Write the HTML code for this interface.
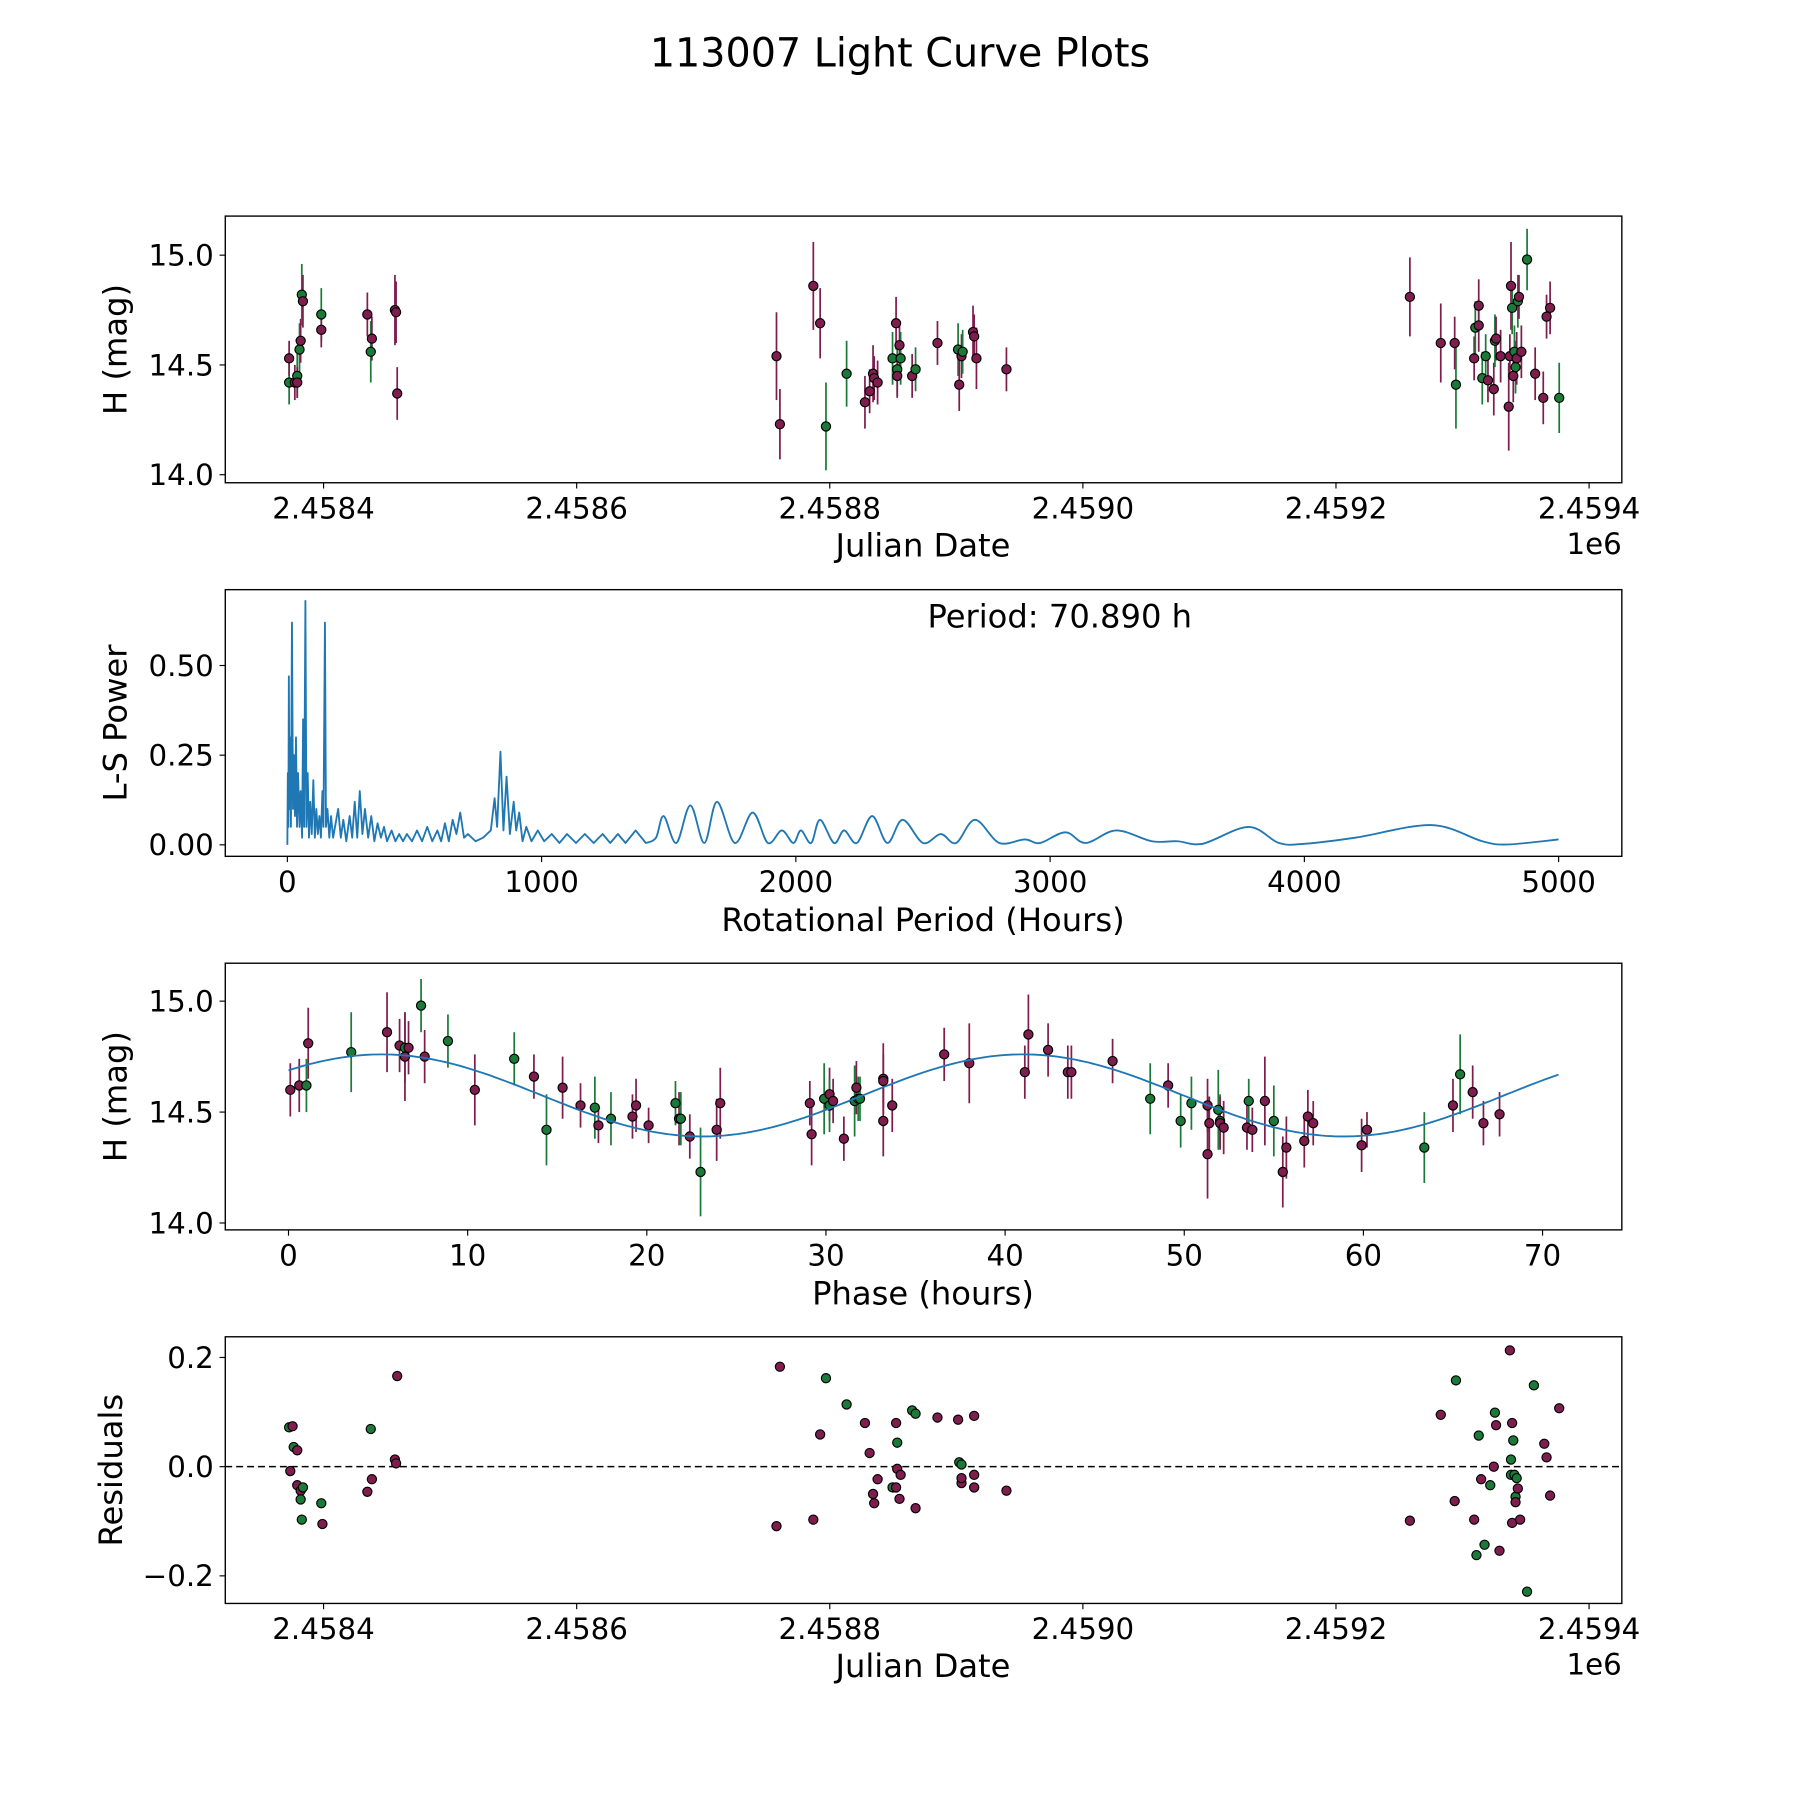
<!DOCTYPE html>
<html><head><meta charset="utf-8"><style>
html,body{margin:0;padding:0;background:#fff;}
svg{display:block;font-family:"DejaVu Sans","Liberation Sans",sans-serif;}
</style></head><body>
<svg id="fig" width="1800" height="1800" viewBox="0 0 1566 1566" xmlns="http://www.w3.org/2000/svg">
<rect width="1566" height="1566" fill="#fff"/>
<text x="783" y="58" font-size="34.5" text-anchor="middle">113007 Light Curve Plots</text>
<g id="p1"></g>
<g id="p2"></g>
<g id="p3"></g>
<g id="p4"></g>
</svg>
<script>
const JD_BASE = 2458372.8;
// Light curve: days since JD_BASE, magnitude, error, band (g = green, m = maroon)
const lcDays = [0,0,4.5,6.4,6.4,8.2,9.1,10,10.9,25.4,25.4,61.8,64.5,65.4,83.6,84.5,85.4,
385.1,387.8,414.2,419.6,424.2,440.5,455,458.7,461.4,462.3,465,476.8,479.6,480.5,480.5,482.3,483.2,492.3,495,512.3,528.6,529.5,531.3,532.2,540.4,541.3,543.1,566.8,
885.6,910,921,922,936.4,937.3,940,940,942.8,945.5,947.3,951.9,952.8,953.7,957.3,963.7,964.6,965.5,966.4,967.3,968.2,969.1,970,970.9,971.8,973.7,978.2,984.6,991,993.6,996.4,1003.6];
const lcMag = [14.42,14.53,14.42,14.45,14.42,14.57,14.61,14.82,14.79,14.73,14.66,14.73,14.56,14.62,14.75,14.74,14.37,
14.54,14.23,14.86,14.69,14.22,14.46,14.33,14.38,14.46,14.44,14.42,14.53,14.69,14.48,14.45,14.59,14.53,14.45,14.48,14.60,14.57,14.41,14.54,14.56,14.65,14.63,14.53,14.48,
14.81,14.60,14.60,14.41,14.53,14.67,14.68,14.77,14.44,14.54,14.43,14.39,14.61,14.62,14.54,14.31,14.54,14.86,14.76,14.45,14.56,14.49,14.53,14.79,14.81,14.56,14.98,14.46,14.35,14.72,14.76,14.35];
const lcErr = [0.1,0.08,0.08,0.1,0.07,0.12,0.1,0.14,0.12,0.12,0.08,0.1,0.14,0.1,0.16,0.14,0.12,
0.2,0.16,0.2,0.16,0.2,0.15,0.12,0.1,0.13,0.1,0.1,0.12,0.12,0.12,0.1,0.1,0.12,0.1,0.1,0.1,0.12,0.12,0.1,0.1,0.12,0.1,0.14,0.1,
0.18,0.18,0.12,0.2,0.1,0.12,0.12,0.12,0.12,0.1,0.1,0.12,0.12,0.1,0.12,0.2,0.1,0.2,0.12,0.12,0.12,0.12,0.12,0.12,0.1,0.12,0.14,0.12,0.12,0.1,0.12,0.16];
const lcBand = "gmmgmgmgmgmmgmmmm" + "mmmmggmmmmmgmgmmgmgmgmmgmmmm" + "mmmgmgmmggmmgmmmmmgmggmgmmgmmmmg";
// Phase-folded data
const phHours = [0.1,0.6,1.0,1.1,3.5,5.5,6.2,6.5,6.5,6.7,7.4,7.6,8.9,10.4,12.6,13.7,14.4,15.3,16.3,17.1,17.3,18.0,19.2,19.4,20.1,21.6,21.8,21.9,22.4,23.0,23.9,24.1,29.1,29.2,29.9,30.2,30.2,30.4,31.0,31.6,31.7,31.8,31.9,33.2,33.2,33.2,33.7,36.6,38.0,41.1,41.3,42.4,43.5,43.7,46.0,48.1,49.1,49.8,50.4,51.3,51.4,51.3,51.9,52.0,52.0,52.2,53.5,53.6,53.8,54.5,55.0,55.5,55.7,56.7,56.9,57.2,59.9,60.2,63.4,65.0,65.4,66.1,66.7,67.6];
const phMag = [14.60,14.62,14.62,14.81,14.77,14.86,14.80,14.79,14.75,14.79,14.98,14.75,14.82,14.60,14.74,14.66,14.42,14.61,14.53,14.52,14.44,14.47,14.48,14.53,14.44,14.54,14.47,14.47,14.39,14.23,14.42,14.54,14.54,14.40,14.56,14.58,14.53,14.55,14.38,14.55,14.61,14.56,14.56,14.65,14.64,14.46,14.53,14.76,14.72,14.68,14.85,14.78,14.68,14.68,14.73,14.56,14.62,14.46,14.54,14.53,14.45,14.31,14.51,14.46,14.45,14.43,14.43,14.55,14.42,14.55,14.46,14.23,14.34,14.37,14.48,14.45,14.35,14.42,14.34,14.53,14.67,14.59,14.45,14.49];
const phBand = "mmgmgmmgmm"+"gmgmgmgmmg"+"mgmmmgmgmg"+"mmmmgmgmmg"+"mggmmmmmmm"+"mmmmmgmggm"+"mmggmmmgmm"+"gmmmmmmmgm"+"gmmm";
const phErr = [0.12,0.12,0.12,0.16,0.18,0.18,0.12,0.16,0.2,0.12,0.12,0.12,0.12,0.16,0.12,0.1,0.16,0.14,0.1,0.14,0.08,0.12,0.1,0.12,0.08,0.1,0.12,0.12,0.1,0.2,0.14,0.16,0.1,0.14,0.16,0.12,0.12,0.1,0.1,0.16,0.12,0.1,0.1,0.16,0.12,0.16,0.12,0.12,0.18,0.12,0.18,0.12,0.12,0.12,0.1,0.16,0.1,0.12,0.12,0.12,0.12,0.2,0.18,0.12,0.12,0.12,0.1,0.1,0.1,0.2,0.16,0.16,0.14,0.12,0.12,0.1,0.12,0.08,0.16,0.12,0.18,0.12,0.1,0.1];
// Fit model parameters
const fitMean = 14.575, fitAmp = 0.185, fitPeakHour = 5.2, fitCycleHours = 35.8, fitEnd = 70.89;
// Periodogram (period hours, power) - spiky region
const lsPeriod = [0,2,4,6,8,10,14,18,22,26,30,34,38,42,48,52,58,62,66,70.9,75,80,85,90,96,102,108,114,120,126,132,138,142,148,152,158,165,172,180,190,200,210,220,232,245,255,265,275,285,295,305,318,330,342,355,368,380,392,410,425,440,455,470,490,510,530,550,570,590,605,620,635,650,665,680,695,710,740,770,800,815,825,838,850,862,875,890,900,912,925,940,960,985,1010,1040,1070,1100,1135,1170,1205,1240,1270,1300,1330,1370,1410];
const lsPower = [0,0.20,0.05,0.47,0.1,0.30,0.05,0.62,0.1,0.25,0.08,0.3,0.05,0.2,0.05,0.15,0.02,0.35,0.05,0.68,0.05,0.2,0.02,0.12,0.03,0.18,0.02,0.1,0.03,0.08,0.02,0.15,0.05,0.62,0.05,0.1,0.02,0.08,0.02,0.06,0.1,0.02,0.07,0.01,0.08,0.02,0.12,0.02,0.15,0.03,0.1,0.02,0.08,0.01,0.06,0.02,0.05,0.01,0.04,0.01,0.03,0.01,0.03,0.01,0.04,0.01,0.05,0.01,0.04,0.01,0.06,0.01,0.07,0.03,0.09,0.02,0.03,0.01,0.02,0.04,0.13,0.05,0.26,0.04,0.19,0.03,0.12,0.04,0.09,0.01,0.05,0.01,0.04,0.01,0.03,0.005,0.03,0.005,0.03,0.005,0.03,0.005,0.03,0.005,0.04,0.005];
// Periodogram - smooth long-period region
const lsPeriodSmooth = [1410,1450,1480,1530,1585,1640,1690,1760,1830,1890,1945,1990,2020,2060,2095,2150,2190,2240,2300,2360,2420,2500,2570,2630,2705,2800,2900,2960,3060,3140,3260,3400,3500,3600,3780,3900,4000,4200,4500,4700,4800,5000];
const lsPowerSmooth = [0.005,0.02,0.08,0.005,0.11,0.005,0.12,0.005,0.09,0.005,0.04,0.005,0.04,0.005,0.07,0.005,0.04,0.005,0.08,0.005,0.07,0.005,0.03,0.005,0.07,0.005,0.015,0.005,0.035,0.005,0.04,0.01,0.01,0.003,0.05,0.005,0.003,0.02,0.055,0.01,0.001,0.015];
// Residuals
const resDays = [0,2.7,0.9,3.6,6.4,6.4,9.1,9.1,10.9,10,25.4,26.3,61.8,64.5,65.4,83.6,84.5,85.4,
385.1,387.8,414.2,419.6,424.2,440.5,455,458.7,461.4,462.3,465,476.8,479.6,480.5,480.5,479.6,482.3,483.2,492.3,495,495,512.3,528.6,529.5,531.3,531.3,531.3,541.3,541.3,541.3,566.8,
885.6,910,921,922,936.4,938.2,940,941.9,944.6,949.1,951.9,952.8,953.7,956.4,964.6,965.5,966.4,966.4,967.3,965.5,968.2,970,969.1,969.1,970.9,972.7,978.2,983.6,991.8,993.6,996.4,1003.6];
const resVal = [0.072,0.074,-0.008,0.036,0.03,-0.034,-0.044,-0.06,-0.038,-0.097,-0.067,-0.105,-0.046,0.069,-0.023,0.013,0.006,0.166,
-0.109,0.183,-0.097,0.059,0.162,0.114,0.08,0.025,-0.05,-0.067,-0.023,-0.038,0.08,0.044,-0.004,-0.038,-0.059,-0.015,0.103,0.097,-0.076,0.09,0.086,0.008,0.004,-0.03,-0.021,0.093,-0.015,-0.038,-0.044,
-0.099,0.095,-0.063,0.158,-0.097,-0.162,0.057,-0.023,-0.143,-0.034,0,0.099,0.076,-0.154,0.213,0.013,-0.103,0.08,0.048,-0.015,-0.015,-0.021,-0.055,-0.065,-0.04,-0.097,-0.229,0.149,0.042,0.017,-0.053,0.107];
const resBand = "gmmgmmmggggmmgmmmm" + "mmmmggmmmmmgmgmmmmggmmmggmmmmmm" + "mmmgmggmggmgmmmgmmgggggmmmggmmmmg";
const jdTicks = [2458400,2458600,2458800,2459000,2459200,2459400];
const jdTickLabels = ["2.4584","2.4586","2.4588","2.4590","2.4592","2.4594"];
const magTicks = [14.0,14.5,15.0];
const lsXTicks = [0,1000,2000,3000,4000,5000];
const lsYTicks = [0,0.25,0.5];
const phXTicks = [0,10,20,30,40,50,60,70];
const resTicks = [-0.2,0,0.2];

const NS = "http://www.w3.org/2000/svg";
const COL = {m:"#7f1d4f", g:"#1b7a38"};
const TF = 25.5, LF = 28;
function mk(parent, tag, attrs){ const e=document.createElementNS(NS,tag); for(const k in attrs) e.setAttribute(k,attrs[k]); parent.appendChild(e); return e; }
const L=196, R=1411;
function frame(g, top, bot){
  const r = mk(g,"rect",{x:L,y:top,width:R-L,height:bot-top,fill:"none",stroke:"#000","stroke-width":1.2});
  
  
}
function xTicks(g, vals, labels, sx, bot){
  vals.forEach((v,i)=>{ const x=sx(v);
    const t=mk(g,"line",{x1:x,x2:x,y1:bot,y2:bot+5,stroke:"#000","stroke-width":1});
    
    
    const tx=mk(g,"text",{x:x,y:bot+31,"font-size":TF,"text-anchor":"middle"}); tx.textContent=labels[i];
    
    
  });
}
function yTicks(g, vals, labels, sy){
  vals.forEach((v,i)=>{ const y=sy(v);
    const t=mk(g,"line",{x1:L-5,x2:L,y1:y,y2:y,stroke:"#000","stroke-width":1});
    
    
    const tx=mk(g,"text",{x:L-10,y:y+9,"font-size":TF,"text-anchor":"end"}); tx.textContent=labels[i];
    
    
  });
}
function label(g, txt, x, y, rot, name){
  const t=mk(g,"text",{x:x,y:y,"font-size":LF,"text-anchor":"middle"}); t.textContent=txt;
  if(rot) t.setAttribute("transform",`rotate(-90 ${x} ${y})`);
  
  
}
function dot(g,x,y,b,name){
  const c=mk(g,"circle",{cx:x,cy:y,r:4,fill:COL[b]||COL.m,stroke:"#000","stroke-width":1});
  
  
}
function errbar(g,x,y1,y2,b){
  const l=mk(g,"line",{x1:x,x2:x,y1:y1,y2:y2,stroke:COL[b]||COL.m,"stroke-width":1.5});
  
  
}
const sxJD = jd => 281.5 + (jd-2458400)*1.101;

// Panel 1
(function(){
  const g=document.getElementById("p1"), top=188, bot=420;
  const sy = m => 413 - (m-14.0)*191;
  lcDays.forEach((d,i)=>{ const x=sxJD(JD_BASE+d); errbar(g,x,sy(lcMag[i]-lcErr[i]),sy(lcMag[i]+lcErr[i]),lcBand[i]); });
  lcDays.forEach((d,i)=>{ dot(g,sxJD(JD_BASE+d),sy(lcMag[i]),lcBand[i],'light-curve-point'); });
  frame(g,top,bot);
  xTicks(g,jdTicks,jdTickLabels,sxJD,bot);
  yTicks(g,magTicks,magTicks.map(v=>v.toFixed(1)),sy);
  label(g,"Julian Date",803,484,false,'x-axis-title');
  const e=mk(g,"text",{x:1411,y:482,"font-size":TF,"text-anchor":"end"}); e.textContent="1e6";
   
  label(g,"H (mag)",110,304,true,'y-axis-title');
})();

// Panel 2
(function(){
  const g=document.getElementById("p2"), top=513, bot=745;
  const sx = p => 250 + p*0.2212, sy = v => 735 - v*312;
  let d = "M" + lsPeriod.map((p,i)=>sx(p).toFixed(1)+","+sy(lsPower[i]).toFixed(1)).join(" L");
  // smooth section via Catmull-Rom
  const P = lsPeriodSmooth.map((p,i)=>[sx(p), sy(lsPowerSmooth[i])]);
  for(let i=0;i<P.length-1;i++){
    const p0=P[Math.max(0,i-1)], p1=P[i], p2=P[i+1], p3=P[Math.min(P.length-1,i+2)];
    const c1=[p1[0]+(p2[0]-p0[0])/6, p1[1]+(p2[1]-p0[1])/6];
    const c2=[p2[0]-(p3[0]-p1[0])/6, p2[1]-(p3[1]-p1[1])/6];
    c1[1]=Math.min(c1[1],sy(-0.003)); c2[1]=Math.min(c2[1],sy(-0.003));
    d += ` C${c1[0].toFixed(1)},${c1[1].toFixed(1)} ${c2[0].toFixed(1)},${c2[1].toFixed(1)} ${p2[0].toFixed(1)},${p2[1].toFixed(1)}`;
  }
  const pl=mk(g,"path",{d:d,fill:"none",stroke:"#1f77b4","stroke-width":1.6,"stroke-linejoin":"round"});
   
  frame(g,top,bot);
  xTicks(g,lsXTicks,lsXTicks.map(String),sx,bot);
  yTicks(g,lsYTicks,lsYTicks.map(v=>v.toFixed(2)),sy);
  label(g,"Rotational Period (Hours)",803,810,false,'x-axis-title');
  label(g,"L-S Power",110,629,true,'y-axis-title');
  const t=mk(g,"text",{x:922,y:546,"font-size":LF,"text-anchor":"middle"}); t.textContent="Period: 70.890 h";
   
})();

// Panel 3
(function(){
  const g=document.getElementById("p3"), top=838, bot=1070;
  const sx = p => 251 + p*15.586, sy = m => 1064 - (m-14.0)*193;
  phHours.forEach((p,i)=>errbar(g,sx(p),sy(phMag[i]-phErr[i]),sy(phMag[i]+phErr[i]),phBand[i]));
  phHours.forEach((p,i)=>dot(g,sx(p),sy(phMag[i]),phBand[i],'phase-point'));
  const pts=[]; for(let k=0;k<=300;k++){ const p=fitEnd*k/300; const m=fitMean+fitAmp*Math.cos(2*Math.PI*(p-fitPeakHour)/fitCycleHours); pts.push(sx(p).toFixed(1)+","+sy(m).toFixed(1)); }
  const pl=mk(g,"polyline",{points:pts.join(" "),fill:"none",stroke:"#1f77b4","stroke-width":1.6});
   
  frame(g,top,bot);
  xTicks(g,phXTicks,phXTicks.map(String),sx,bot);
  yTicks(g,magTicks,magTicks.map(v=>v.toFixed(1)),sy);
  label(g,"Phase (hours)",803,1135,false,'x-axis-title');
  label(g,"H (mag)",110,954,true,'y-axis-title');
})();

// Panel 4
(function(){
  const g=document.getElementById("p4"), top=1163, bot=1395;
  const sy = v => 1276 - v*475;
  const z=mk(g,"line",{x1:L,x2:R,y1:sy(0),y2:sy(0),stroke:"#000","stroke-width":1.3,"stroke-dasharray":"6,3.5"});
   
  resDays.forEach((d,i)=>dot(g,sxJD(JD_BASE+d),sy(resVal[i]),resBand[i],'residual-point'));
  frame(g,top,bot);
  xTicks(g,jdTicks,jdTickLabels,sxJD,bot);
  yTicks(g,resTicks,resTicks.map(v=>v===0?"0.0":(v<0?"\u2212":"")+Math.abs(v).toFixed(1)),sy);
  label(g,"Julian Date",803,1459,false,'x-axis-title');
  const e=mk(g,"text",{x:1411,y:1457,"font-size":TF,"text-anchor":"end"}); e.textContent="1e6";
   
  label(g,"Residuals",106,1279,true,'y-axis-title');
})();
</script>
</body></html>
